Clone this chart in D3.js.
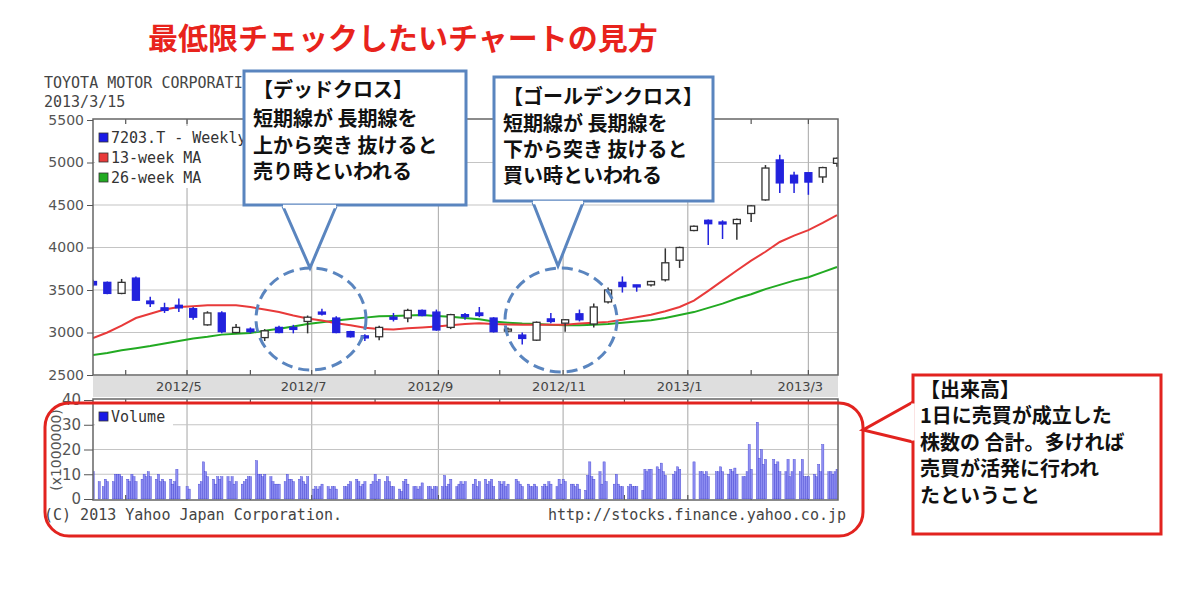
<!DOCTYPE html>
<html>
<head>
<meta charset="utf-8">
<script src="https://cdn.jsdelivr.net/npm/d3@7"></script>
<style>
  body { margin: 0; background: #fff; }
</style>
</head>
<body>
<svg id="chart" width="1200" height="594"></svg>
<script>
// weekly candles (Friday of each week), 7203.T
const firstWeek = new Date(2012, 2, 16)
const lastWeek = new Date(2013, 2, 15)

const opens  = [3600,3590,3460,3640,3370,3290,3320,3280,3090,3230,3000,3040,2940,3060,3060,3130,3240,3170,3010,2960,2950,3180,3170,3260,3240,3060,3210,3230,3170,3020,2970,2910,3160,3110,3220,3100,3360,3590,3560,3560,3620,3850,4200,4320,4300,4280,4400,4560,5030,4850,4880,4830,4990]
const highs  = [3620,3600,3630,3660,3420,3350,3400,3300,3250,3250,3100,3060,3040,3080,3090,3200,3280,3190,3020,2980,3080,3230,3280,3270,3270,3220,3230,3300,3180,3060,3000,3130,3230,3160,3270,3340,3530,3660,3560,3610,3990,4010,4260,4330,4320,4340,4500,4970,5090,4890,4880,4950,5060]
const lows   = [3540,3450,3450,3370,3300,3230,3240,3150,3080,2990,2990,2990,2900,2990,2990,2990,3200,2990,2940,2900,2910,3130,3120,3190,3020,3040,3150,3180,3000,3000,2860,2900,3110,3010,3130,3060,3340,3470,3480,3540,3600,3760,4190,4030,4100,4090,4300,4550,4640,4640,4620,4760,4950]
const closes = [3560,3460,3590,3380,3340,3260,3290,3180,3230,3010,3060,3010,3020,3000,3040,3180,3220,3000,2950,2940,3060,3160,3260,3200,3030,3210,3190,3200,3010,3040,2930,3120,3130,3150,3150,3300,3500,3540,3540,3600,3820,4000,4250,4280,4280,4330,4490,4935,4760,4760,4770,4940,5050]

const ma13 = [2935,3000,3080,3170,3220,3270,3300,3310,3320,3320,3320,3300,3270,3240,3200,3165,3140,3110,3085,3055,3040,3035,3050,3060,3070,3085,3100,3110,3100,3095,3090,3090,3090,3090,3105,3115,3125,3150,3180,3210,3250,3300,3375,3490,3610,3730,3845,3950,4065,4140,4205,4290,4380]
const ma26 = [2735,2760,2790,2815,2840,2870,2900,2930,2950,2975,2985,2995,3020,3045,3070,3100,3120,3140,3160,3175,3190,3195,3200,3205,3195,3185,3170,3155,3130,3115,3105,3100,3090,3085,3085,3090,3100,3115,3130,3145,3170,3205,3240,3290,3340,3400,3450,3510,3560,3610,3650,3710,3770]

// daily volume (x1000000 shares), one list per month
const volMar12 = [11,7,5,8,7,7,10,10,10,9]
const volApr12 = [8,7,10,9,7,8,10,9,11,9,8,10,7,8,7,8,6,7,12,5]
const volMay12 = [5,4,6,7,15,11,9,8,6,9,8,9,9,7,9,6,7,6,7,8,9]
const volJun12 = [9,15.5,10,10,9,10,9,7,6,6,6,7,10,8,8,7,8,9,7,6,9]
const volJul12 = [4,5,4,5,6,5,4,5,5,4,5,5,6,7,8,7,5,6,7,6,7]
const volAug12 = [10,7,8,7,9,7,5,5,4,3,7,8,6,5,5,4,5,6.5,5,5,4,5,5]
const volSep12 = [5,9.5,5,6,8,5,6,7,6,7,6,8,5,7,8,6,7,8,5]
const volOct12 = [7,6,7,5,6,8,7,6,5,6,5,5,6,5,5,6,5,7,6,5,8,6]
const volNov12 = [8,7,6,6,5,6,4,3.5,9.5,15,9,8,11,6,15,7,6,10,6,5,5]
const volDec12 = [5,6,5,5,5,3.5,12,11,12,12,13,12,14.5,11,9.5,10,11,13,12]
const volJan13 = [15,11,11,10,11,9,11,11,13,11,10,12,11,12.5,10,9,9,11,22]
const volFeb13 = [12,31,16.5,20,14,16,16,14,15,11,11,16,9,11,16,11,16,9,9]
const volMar13 = [9,10,9,14,11,22,11,11,10,11,12]

const holidays = ["2012-03-20","2012-04-30","2012-05-03","2012-05-04","2012-07-16","2012-09-17","2012-10-08",
  "2012-11-23","2012-12-24","2012-12-31","2013-01-01","2013-01-02","2013-01-03","2013-01-14","2013-02-11"]

const priceTicks = [2500, 3000, 3500, 4000, 4500, 5000, 5500]
const volTicks = [0, 10, 20, 30, 40]
const monthLabels = ["2012/5", "2012/7", "2012/9", "2012/11", "2013/1", "2013/3"]
const minorMonths = ["2012/4", "2012/6", "2012/8", "2012/10", "2012/12", "2013/2"]
const legendItems = [["7203.T - Weekly", "#1a1ae6"], ["13-week MA", "#e83a3a"], ["26-week MA", "#22aa22"]]

const deadText = ["【デッドクロス】", "短期線が 長期線を", "上から突き 抜けると", "売り時といわれる"]
const goldenText = ["【ゴールデンクロス】", "短期線が 長期線を", "下から突き 抜けると", "買い時といわれる"]
const volumeText = ["【出来高】", "1日に売買が成立した", "株数の 合計。多ければ", "売買が活発に行われ", "たということ"]

const mono = "'DejaVu Sans Mono', 'Liberation Mono', monospace"
const sans = "'DejaVu Sans', sans-serif"
const jp = "'Noto Sans CJK JP', sans-serif"
const calloutBlue = "#5a85bf"
const calloutRed = "#e2231f"

const P = { left: 93, right: 838, top: 119, bottom: 375 }
const V = { top: 399, bottom: 500 }

const svg = d3.select("#chart")
const parseMonth = d3.timeParse("%Y/%m")
const parseDay = d3.timeParse("%Y-%m-%d")

const weeks = d3.timeFriday.range(firstWeek, d3.timeDay.offset(lastWeek, 1))
const candles = weeks.map((d, i) => ({ date: d, o: opens[i], h: highs[i], l: lows[i], c: closes[i], m13: ma13[i], m26: ma26[i] }))

const holidaySet = new Set(holidays.map(s => +parseDay(s)))
const tradingDays = d3.timeDay.range(firstWeek, d3.timeDay.offset(lastWeek, 1))
    .filter(d => d.getDay() > 0 && d.getDay() < 6 && !holidaySet.has(+d))
const volumes = [].concat(volMar12, volApr12, volMay12, volJun12, volJul12, volAug12, volSep12, volOct12,
  volNov12, volDec12, volJan13, volFeb13, volMar13)
const volData = tradingDays.slice(0, volumes.length).map((d, i) => ({ date: d, v: volumes[i] }))

const x = d3.scaleTime().domain([firstWeek, lastWeek]).range([P.left, P.right - 1])
const y = d3.scaleLinear().domain([2500, 5500]).range([P.bottom, P.top + 1])
const yv = d3.scaleLinear().domain([0, 40]).range([V.bottom - 1, V.top + 1])

const defs = svg.append("defs")
defs.append("clipPath").attr("id", "clipP").append("rect")
    .attr("x", P.left).attr("y", P.top).attr("width", P.right - P.left).attr("height", P.bottom - P.top)
defs.append("clipPath").attr("id", "clipV").append("rect")
    .attr("x", P.left).attr("y", V.top).attr("width", P.right - P.left).attr("height", V.bottom - V.top)

// title
svg.append("text").text("最低限チェックしたいチャートの見方")
    .attr("x", 148).attr("y", 49)
    .attr("font-family", jp).attr("font-weight", "bold").attr("font-size", "30px")
    .attr("fill", "#e8231c")

// header
svg.append("text").text("TOYOTA MOTOR CORPORATION")
    .attr("x", 44).attr("y", 88).attr("font-family", mono).attr("font-size", "15px").attr("fill", "#444")
svg.append("text").text("2013/3/15")
    .attr("x", 44).attr("y", 107).attr("font-family", mono).attr("font-size", "15px").attr("fill", "#444")

// ---------- price panel ----------
const grid = svg.append("g").attr("stroke", "#c4c4c4").attr("stroke-width", 1.2)
priceTicks.slice(1, -1).forEach(t => {
    grid.append("line").attr("x1", P.left).attr("x2", P.right).attr("y1", y(t)).attr("y2", y(t))
})
monthLabels.forEach(m => {
    const gx = x(parseMonth(m))
    grid.append("line").attr("x1", gx).attr("x2", gx).attr("y1", P.top).attr("y2", P.bottom).attr("stroke", "#b4b4b4")
    grid.append("line").attr("x1", gx).attr("x2", gx).attr("y1", V.top).attr("y2", V.bottom).attr("stroke", "#b4b4b4")
})
volTicks.slice(1, -1).forEach(t => {
    grid.append("line").attr("x1", P.left).attr("x2", P.right).attr("y1", yv(t)).attr("y2", yv(t))
})

// minor ticks at top/bottom of panels
const ticks = svg.append("g").attr("stroke", "#555").attr("stroke-width", 1.2)
monthLabels.concat(minorMonths).forEach(m => {
    const tx = x(parseMonth(m))
    ticks.append("line").attr("x1", tx).attr("x2", tx).attr("y1", P.top).attr("y2", P.top + 5)
    ticks.append("line").attr("x1", tx).attr("x2", tx).attr("y1", P.bottom - 5).attr("y2", P.bottom)
    ticks.append("line").attr("x1", tx).attr("x2", tx).attr("y1", V.top).attr("y2", V.top + 5)
    ticks.append("line").attr("x1", tx).attr("x2", tx).attr("y1", V.bottom - 5).attr("y2", V.bottom)
})

// moving averages
const plot = svg.append("g").attr("clip-path", "url(#clipP)")
const line13 = d3.line().x(d => x(d.date)).y(d => y(d.m13))
const line26 = d3.line().x(d => x(d.date)).y(d => y(d.m26))
plot.append("path").datum(candles).attr("d", line26).attr("fill", "none").attr("stroke", "#22aa22").attr("stroke-width", 2)
plot.append("path").datum(candles).attr("d", line13).attr("fill", "none").attr("stroke", "#e83a3a").attr("stroke-width", 2)

// candles
const bw = 7
const cg = plot.selectAll("g.candle").data(candles).enter().append("g")
cg.append("line")
    .attr("x1", d => x(d.date)).attr("x2", d => x(d.date))
    .attr("y1", d => y(d.h)).attr("y2", d => y(d.l))
    .attr("stroke", d => d.c >= d.o ? "#333" : "#2222dd").attr("stroke-width", 1.5)
cg.append("rect")
    .attr("x", d => x(d.date) - bw / 2)
    .attr("y", d => y(Math.max(d.o, d.c)))
    .attr("width", bw)
    .attr("height", d => Math.max(2, Math.abs(y(d.o) - y(d.c))))
    .attr("fill", d => d.c >= d.o ? "#fff" : "#2222dd")
    .attr("stroke", d => d.c >= d.o ? "#333" : "#2222dd").attr("stroke-width", 1.3)

// price legend
const leg = svg.append("g")
leg.append("rect").attr("x", P.left + 2).attr("y", 126).attr("width", 150).attr("height", 62).attr("fill", "#fff")
legendItems.forEach((it, i) => {
    const ly = 138 + i * 20
    leg.append("rect").attr("x", 99).attr("y", ly - 5).attr("width", 9).attr("height", 9)
        .attr("fill", it[1]).attr("stroke", "#333").attr("stroke-width", 0.8)
    leg.append("text").text(it[0]).attr("x", 111).attr("y", ly + 5)
        .attr("font-family", mono).attr("font-size", "15px").attr("fill", "#333")
})

// price frame and axis
svg.append("rect").attr("x", P.left).attr("y", P.top).attr("width", P.right - P.left).attr("height", P.bottom - P.top)
    .attr("fill", "none").attr("stroke", "#666").attr("stroke-width", 1.5)
const yAxis = svg.append("g").attr("transform", `translate(${P.left},0)`)
    .call(d3.axisLeft(y).tickValues(priceTicks).tickFormat(d3.format("d")).tickSize(6).tickPadding(3))
yAxis.select(".domain").remove()
yAxis.selectAll("line").attr("stroke", "#555")
yAxis.selectAll("text").attr("font-family", sans).attr("font-size", "14px").attr("fill", "#555")

// x label band
svg.append("rect").attr("x", P.left).attr("y", P.bottom + 1).attr("width", P.right - P.left).attr("height", V.top - P.bottom - 3)
    .attr("fill", "#dedede")
monthLabels.forEach(m => {
    svg.append("text").text(m).attr("x", x(parseMonth(m)) - 31).attr("y", 391)
        .attr("font-family", sans).attr("font-size", "13px").attr("fill", "#444")
})

// ---------- volume panel ----------
const vplot = svg.append("g").attr("clip-path", "url(#clipV)")
vplot.selectAll("rect.vol").data(volData).enter().append("rect")
    .attr("x", d => x(d.date) - 1).attr("width", 2.2)
    .attr("y", d => yv(d.v)).attr("height", d => yv(0) - yv(d.v))
    .attr("fill", "#8f8ff2").attr("stroke", "#4040d0").attr("stroke-width", 0.4)

svg.append("rect").attr("x", P.left + 2).attr("y", 409).attr("width", 78).attr("height", 18).attr("fill", "#fff")
svg.append("rect").attr("x", 99).attr("y", 412).attr("width", 9).attr("height", 9)
    .attr("fill", "#1a1ae6").attr("stroke", "#333").attr("stroke-width", 0.8)
svg.append("text").text("Volume").attr("x", 111).attr("y", 422)
    .attr("font-family", mono).attr("font-size", "15px").attr("fill", "#333")

svg.append("rect").attr("x", P.left).attr("y", V.top).attr("width", P.right - P.left).attr("height", V.bottom - V.top)
    .attr("fill", "none").attr("stroke", "#666").attr("stroke-width", 1.5)
const vAxis = svg.append("g").attr("transform", `translate(${P.left},0)`)
    .call(d3.axisLeft(yv).tickValues(volTicks).tickSize(9).tickPadding(3))
vAxis.select(".domain").remove()
vAxis.selectAll("line").attr("stroke", "#555")
vAxis.selectAll("text").attr("font-family", sans).attr("font-size", "15px").attr("fill", "#555")
svg.append("text").text("(x1000000)")
    .attr("transform", "translate(61,450) rotate(-90)").attr("text-anchor", "middle")
    .attr("font-family", sans).attr("font-size", "14px").attr("fill", "#555")

svg.append("text").text("(C) 2013 Yahoo Japan Corporation.").attr("x", 44).attr("y", 520)
    .attr("font-family", mono).attr("font-size", "15px").attr("fill", "#444")
svg.append("text").text("http://stocks.finance.yahoo.co.jp").attr("x", 846).attr("y", 520).attr("text-anchor", "end")
    .attr("font-family", mono).attr("font-size", "15px").attr("fill", "#444")

// ---------- annotations ----------
function addLines(g, lines, tx, lineYs) {
    const t = g.append("text").attr("font-family", jp).attr("font-weight", "bold").attr("font-size", "20px").attr("fill", "#111")
    lines.forEach((s, i) => {
        t.append("tspan").text(s).attr("x", tx).attr("y", lineYs[i])
    })
}

function callout(box, tip, base, lines, color, lineYs) {
    const g = svg.append("g")
    g.append("rect").attr("x", box[0]).attr("y", box[1]).attr("width", box[2] - box[0]).attr("height", box[3] - box[1])
        .attr("fill", "#fff").attr("stroke", color).attr("stroke-width", 3)
    g.append("path").attr("d", d3.line()([base[0], tip, base[1]]))
        .attr("fill", "#fff").attr("stroke", color).attr("stroke-width", 3)
    g.append("line").attr("x1", base[0][0]).attr("y1", base[0][1]).attr("x2", base[1][0]).attr("y2", base[1][1])
        .attr("stroke", "#fff").attr("stroke-width", 3.5)
    addLines(g, lines, box[0] + 9, lineYs)
}

const circles = svg.append("g").attr("fill", "none").attr("stroke", calloutBlue).attr("stroke-width", 3).attr("stroke-dasharray", "11 6")
circles.append("ellipse").attr("cx", 311).attr("cy", 319).attr("rx", 55).attr("ry", 51)
circles.append("ellipse").attr("cx", 561).attr("cy", 320).attr("rx", 56).attr("ry", 52)

callout([244, 71, 466, 205], [310, 268], [[283, 206.5], [336, 206.5]], deadText, calloutBlue, [97, 126, 153, 179])
callout([494, 77, 713, 201], [558, 266], [[533, 202.5], [583, 202.5]], goldenText, calloutBlue, [104, 131, 157, 183])

// volume highlight
svg.append("rect").attr("x", 45).attr("y", 403).attr("width", 818).attr("height", 133).attr("rx", 24)
    .attr("fill", "none").attr("stroke", calloutRed).attr("stroke-width", 3)
const vb = svg.append("g")
vb.append("rect").attr("x", 913).attr("y", 375).attr("width", 248).attr("height", 159)
    .attr("fill", "#fff").attr("stroke", calloutRed).attr("stroke-width", 3)
vb.append("path").attr("d", d3.line()([[913, 402], [863, 430], [913, 442]]))
    .attr("fill", "#fff").attr("stroke", calloutRed).attr("stroke-width", 3)
vb.append("line").attr("x1", 913).attr("x2", 913).attr("y1", 403.5).attr("y2", 440.5).attr("stroke", "#fff").attr("stroke-width", 3.5)
addLines(vb, volumeText, 920, [397, 423, 450, 476, 503])
</script>
</body>
</html>
